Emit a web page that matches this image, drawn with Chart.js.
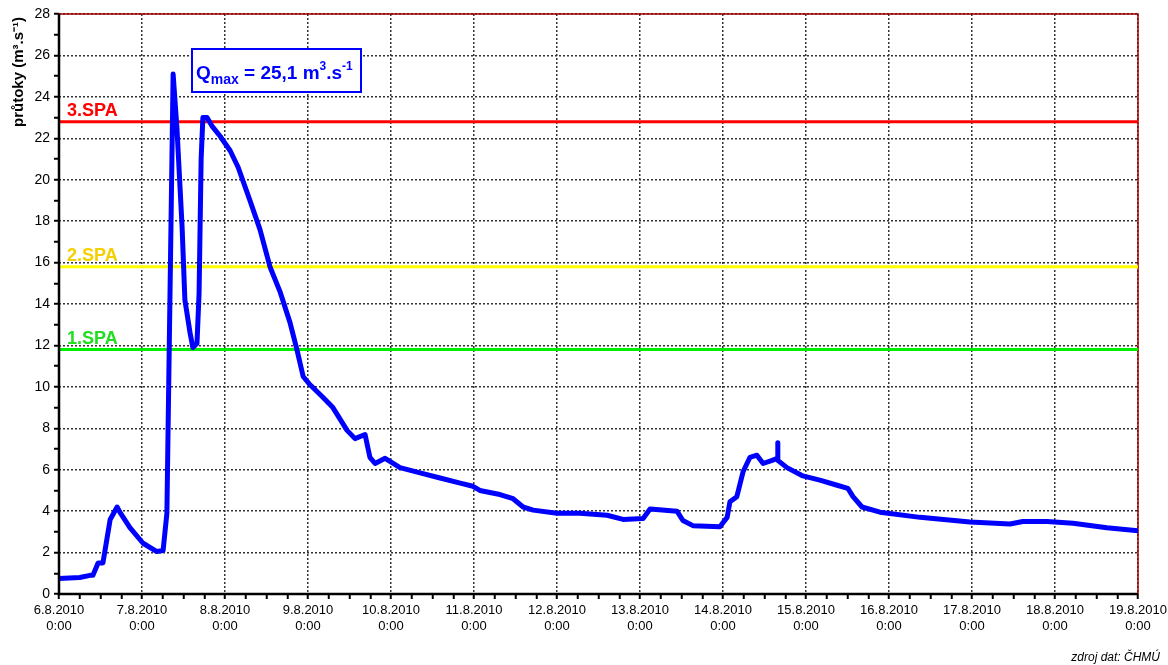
<!DOCTYPE html>
<html>
<head>
<meta charset="utf-8">
<script src="https://cdn.jsdelivr.net/npm/chart.js@4"></script>
<style>
  html, body { margin: 0; padding: 0; background: #fff; }
  #wrap { width: 1168px; height: 665px; position: relative; }
</style>
</head>
<body>
<div id="wrap"><canvas id="flow-chart"></canvas></div>
<script>
// hours since 6.8.2010 0:00
const hours = [0, 6, 9, 9.8, 11.3, 12.7, 13.3, 14.8, 16.8, 17.6, 20.5, 24.3, 28.3, 30.1, 31.2, 33, 34.1, 35.6, 36.4, 37.9, 38.7, 39.9, 40.5, 41.1, 41.6, 42.8, 44.2, 46.6, 49.5, 51.8, 55.2, 58.1, 61, 63.9, 66.8, 68.8, 70.6, 72.6, 76.3, 79.2, 83.3, 85.6, 88.5, 89.9, 91.4, 94.3, 98.6, 104.4, 110.2, 116, 119.7, 121.7, 127.5, 131.3, 134.2, 137.1, 144, 150.6, 158.5, 163.1, 168.9, 170.9, 178.7, 180.4, 183.3, 191.1, 193.2, 194, 196, 197.8, 199.8, 201.8, 203.6, 206.2, 207.7, 207.8, 207.9, 210.5, 215.1, 220, 225, 228.1, 229.6, 232.2, 237.4, 249, 263.4, 275, 278.7, 285.7, 293.2, 303, 312];
// průtoky m3/s
const flows = [0.75, 0.8, 0.9, 0.9, 1.5, 1.5, 2.1, 3.6, 4.2, 3.95, 3.2, 2.45, 2.05, 2.1, 3.9, 25.1, 22.5, 17.7, 14.2, 12.6, 11.9, 12.1, 14.5, 21, 23, 23, 22.6, 22.1, 21.4, 20.6, 19, 17.6, 15.8, 14.6, 13.1, 11.8, 10.5, 10.1, 9.5, 9, 7.9, 7.5, 7.7, 6.6, 6.3, 6.55, 6.1, 5.85, 5.6, 5.35, 5.2, 5.0, 4.8, 4.6, 4.2, 4.05, 3.9, 3.9, 3.8, 3.6, 3.65, 4.1, 4.0, 3.55, 3.3, 3.25, 3.7, 4.45, 4.7, 5.9, 6.6, 6.7, 6.3, 6.45, 6.55, 7.3, 6.45, 6.1, 5.7, 5.5, 5.25, 5.1, 4.7, 4.2, 3.95, 3.7, 3.48, 3.38, 3.5, 3.5, 3.42, 3.2, 3.05];

// flood alert levels (stupně povodňové aktivity)
const spaNames = ["1.SPA", "2.SPA", "3.SPA"];
const spaLevels = [11.8, 15.8, 22.8];
const spaLineColors = ["#00ee00", "#ffff00", "#ff0000"];
const spaTextColors = ["#22dd22", "#f5d000", "#ff0000"];

const qMax = "25,1";
const startDay = 6;
const totalHours = 312;

const FONT = "Arial, 'Liberation Sans', sans-serif";

const flowPoints = hours.map((h, i) => ({ x: h, y: flows[i] }));

const spaSets = spaLevels.map((lvl, i) => ({
  data: [{ x: 0, y: lvl }, { x: totalHours, y: lvl }],
  borderColor: spaLineColors[i],
  borderWidth: 3,
  pointRadius: 0,
  order: 2
}));

// texts drawn on top: SPA labels, Qmax box, axis title, source
const annotations = {
  id: 'annotations',
  beforeDatasetsDraw(chart) {
    // plot frame
    const { ctx, chartArea: a } = chart;
    ctx.save();
    ctx.strokeStyle = '#a00000';
    ctx.lineWidth = 1.5;
    ctx.strokeRect(a.left, a.top, a.right - a.left, a.bottom - a.top);
    ctx.restore();
  },
  afterDraw(chart) {
    const { ctx, chartArea: a, scales } = chart;
    const y = scales.y;
    ctx.save();

    // axis lines
    ctx.strokeStyle = '#000';
    ctx.lineWidth = 2.5;
    ctx.beginPath();
    ctx.moveTo(a.left, a.top);
    ctx.lineTo(a.left, a.bottom);
    ctx.lineTo(a.right, a.bottom);
    ctx.stroke();

    // SPA labels
    ctx.font = 'bold 18px ' + FONT;
    ctx.textBaseline = 'alphabetic';
    spaNames.forEach((name, i) => {
      ctx.fillStyle = spaTextColors[i];
      ctx.fillText(name, a.left + 8, y.getPixelForValue(spaLevels[i]) - 6);
    });

    // Qmax box
    const bx = 192, by = 49;
    ctx.fillStyle = '#fff';
    ctx.fillRect(bx, by, 169, 43);
    ctx.strokeStyle = '#0000ff';
    ctx.lineWidth = 2;
    ctx.strokeRect(bx, by, 169, 43);
    ctx.fillStyle = '#0000ff';
    let tx = bx + 4;
    const base = by + 30;
    const parts = [
      ['Q', 19, 0], ['max', 14, 5], [' = ' + qMax + ' m', 19, 0],
      ['3', 12, -9], ['.s', 19, 0], ['-1', 12, -9]
    ];
    parts.forEach(([t, size, dy]) => {
      ctx.font = 'bold ' + size + 'px ' + FONT;
      ctx.fillText(t, tx, base + dy);
      tx += ctx.measureText(t).width;
    });

    // y axis title
    ctx.translate(23, 72);
    ctx.rotate(-Math.PI / 2);
    ctx.fillStyle = '#000';
    ctx.textAlign = 'center';
    ctx.font = 'bold 15px ' + FONT;
    ctx.fillText('průtoky (m³.s⁻¹)', 0, 0);
    ctx.setTransform(1, 0, 0, 1, 0, 0);

    // source
    ctx.font = 'italic 12px ' + FONT;
    ctx.textAlign = 'right';
    ctx.fillText('zdroj dat: ČHMÚ', 1160, 661);
    ctx.restore();
  }
};

new Chart('flow-chart', {
  type: 'line',
  data: {
    datasets: [
      {
        data: flowPoints,
        borderColor: '#0000ff',
        borderWidth: 5,
        pointRadius: 0,
        tension: 0,
        borderJoinStyle: 'round',
        borderCapStyle: 'round',
        order: 1
      },
      ...spaSets
    ]
  },
  options: {
    responsive: true,
    maintainAspectRatio: false,
    animation: { duration: 0 },
    layout: { padding: { top: 14, right: 0, left: 0, bottom: 0 } },
    plugins: {
      legend: { display: false },
      tooltip: { enabled: false }
    },
    scales: {
      x: {
        type: 'linear',
        min: 0,
        max: totalHours,
        afterFit: s => { s.height = 71; s.paddingRight = 30; s.paddingLeft = 0; },
        border: { display: false, dash: [2, 2] },
        grid: {
          color: c => (c.tick && c.tick.value % 24 === 0) ? '#333' : 'rgba(0,0,0,0)',
          tickColor: '#000',
          tickLength: 5,
          tickWidth: 2,
          lineWidth: 1.5,
          drawTicks: true
        },
        ticks: {
          stepSize: 6,
          autoSkip: false,
          maxRotation: 0,
          padding: 4,
          color: '#000',
          font: { family: FONT, size: 13 },
          callback: v => v % 24 === 0 ? [(startDay + v / 24) + '.8.2010', '0:00'] : ''
        }
      },
      y: {
        min: 0,
        max: 28,
        afterFit: s => { s.width = 59; },
        border: { display: false, dash: [2, 2] },
        grid: {
          color: c => (c.tick && c.tick.value % 2 === 0) ? '#333' : 'rgba(0,0,0,0)',
          tickColor: '#000',
          tickLength: 5,
          tickWidth: 2,
          lineWidth: 1.5
        },
        ticks: {
          stepSize: 1,
          autoSkip: false,
          padding: 4,
          color: '#000',
          font: { family: FONT, size: 14 },
          callback: v => v % 2 === 0 ? String(v) : ''
        }
      }
    }
  },
  plugins: [annotations]
});
</script>
</body>
</html>
